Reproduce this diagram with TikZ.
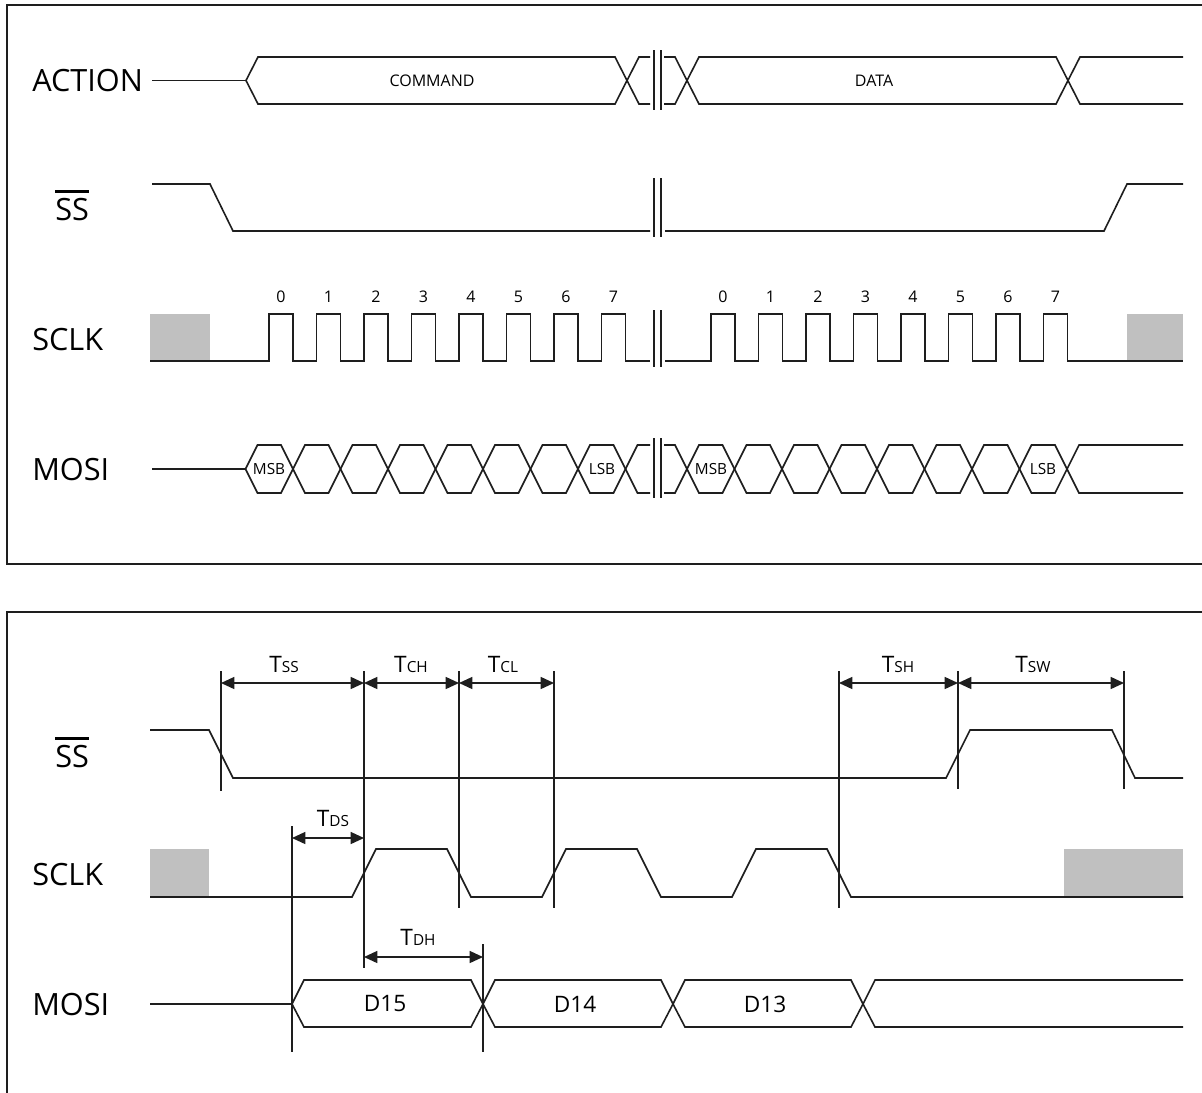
\documentclass[tikz,border=0pt]{standalone}
\usepackage{fontspec}
\setmainfont{Open Sans}
\usetikzlibrary{arrows.meta}
\definecolor{sigc}{RGB}{30,30,30}
\definecolor{grayfill}{RGB}{192,192,192}
\newcommand{\ovlss}{\vbox{\hrule height 2.4pt\kern 3.6pt\hbox{SS}}}
\newcommand{\tlab}[1]{{\fontsize{17}{19}\selectfont T}{\fontsize{11.5}{13}\selectfont #1}}
\tikzset{
  sig/.style={line width=1.2pt, draw=sigc, line join=miter},
  frame/.style={line width=1.6pt, draw=sigc},
  brk/.style={line width=1.2pt, draw=sigc},
  mark line/.style={line width=1.1pt, draw=sigc},
  dim/.style={line width=1.1pt, draw=sigc, {Triangle[length=10pt,width=9pt]}-{Triangle[length=10pt,width=9pt]}},
  siglabel/.style={font=\fontsize{23}{27}\selectfont, inner sep=0pt, text=black},
  buslabel/.style={font=\fontsize{12}{14}\selectfont, inner sep=0pt},
  bitlabel/.style={font=\fontsize{12}{14}\selectfont, inner sep=0pt},
  cell/.style={font=\fontsize{11.5}{13}\selectfont, inner sep=0pt},
  dlabel/.style={font=\fontsize{17}{19}\selectfont, inner sep=0pt},
  tlabel/.style={inner sep=0pt, anchor=base},
  grayblk/.style={fill=grayfill, draw=none}
}
\begin{document}
\begin{tikzpicture}[x=0.75pt, y=-0.75pt]
\useasboundingbox (0,0) rectangle (1202,1092);
\clip (0,0) rectangle (1202,1092);
\fill[white] (0,0) rectangle (1202,1092);

% frames
\draw[frame] (7,5) rectangle (1220,564);
\draw[frame] (7,612) rectangle (1220,1110);

% ================= TOP =================
\node[siglabel, anchor=west] (lact) at (32,80.5) {ACTION};
\node[siglabel, anchor=base west] (lss1) at (55,220) {\ovlss};
\node[siglabel, anchor=west] (lsclk1) at (32,340) {SCLK};
\node[siglabel, anchor=west] (lmosi1) at (32,470) {MOSI};

% ACTION
\draw[sig] (152,80.5) -- (246,80.5);
\draw[sig] (246,80.5) -- (258,57) -- (615,57) -- (639,104) -- (650,104);
\draw[sig] (246,80.5) -- (258,104) -- (615,104) -- (639,57) -- (650,57);
\draw[sig] (664,57) -- (675,57) -- (699,104) -- (1056,104) -- (1080,57) -- (1183,57);
\draw[sig] (664,104) -- (675,104) -- (699,57) -- (1056,57) -- (1080,104) -- (1183,104);
\node[buslabel] (cmd) at (432,80.5) {COMMAND};
\node[buslabel] (dat) at (874,80.5) {DATA};

% SS
\draw[sig] (152,184) -- (210,184) -- (233,231) -- (650,231);
\draw[sig] (665,231) -- (1104,231) -- (1127,184) -- (1183,184);

% SCLK
\fill[grayblk] (150,314) rectangle (210,361);
\fill[grayblk] (1127,314) rectangle (1183,361);
\draw[sig] (150,361) foreach \k in {0,...,7} { -- ({269+47.5*\k},361) -- ({269+47.5*\k},314) -- ({293+47.5*\k},314) -- ({293+47.5*\k},361) } -- (650,361);
\draw[sig] (665,361) foreach \k in {0,...,7} { -- ({711+47.5*\k},361) -- ({711+47.5*\k},314) -- ({735+47.5*\k},314) -- ({735+47.5*\k},361) } -- (1183,361);
\foreach \k in {0,...,7} {
  \node[bitlabel] (bl\k) at ({281+47.5*\k},297) {\k};
  \node[bitlabel] (br\k) at ({723+47.5*\k},297) {\k};
}

% MOSI
\draw[sig] (152,469) -- (245.5,469);
\foreach \j in {0,...,7} {
  \pgfmathsetmacro\L{245.5+47.5*\j}
  \pgfmathsetmacro\R{\L+47.5}
  \draw[sig] (\L,469) -- ({\L+12},445) -- ({\R-12},445) -- (\R,469) -- ({\R-12},493) -- ({\L+12},493) -- cycle;
}
\draw[sig] (625.5,469) -- (637.5,445) -- (650,445);
\draw[sig] (625.5,469) -- (637.5,493) -- (650,493);
\draw[sig] (664,445) -- (675,445) -- (687,469) -- (675,493) -- (664,493);
\foreach \j in {0,...,7} {
  \pgfmathsetmacro\L{687+47.5*\j}
  \pgfmathsetmacro\R{\L+47.5}
  \draw[sig] (\L,469) -- ({\L+12},445) -- ({\R-12},445) -- (\R,469) -- ({\R-12},493) -- ({\L+12},493) -- cycle;
}
\draw[sig] (1067,469) -- (1079,445) -- (1183,445);
\draw[sig] (1067,469) -- (1079,493) -- (1183,493);
\node[cell] (msb1) at (269,469) {MSB};
\node[cell] (lsb1) at (602,469) {LSB};
\node[cell] (msb2) at (711,469) {MSB};
\node[cell] (lsb2) at (1043,469) {LSB};

% break marks
\foreach \ya/\yb in {50/110, 178/237, 310/367, 438/498} {
  \draw[brk] (654,\ya) -- (654,\yb);
  \draw[brk] (661,\ya) -- (661,\yb);
}

% ================= BOTTOM =================
\node[siglabel, anchor=base west] (lss2) at (55,767) {\ovlss};
\node[siglabel, anchor=west] (lsclk2) at (32,875) {SCLK};
\node[siglabel, anchor=west] (lmosi2) at (32,1005) {MOSI};

% SS
\draw[sig] (150,730) -- (209,730) -- (233,778) -- (946,778) -- (970,730) -- (1112,730) -- (1135,778) -- (1183,778);

% SCLK
\fill[grayblk] (150,849) rectangle (209,897);
\fill[grayblk] (1064,849) rectangle (1183,897);
\draw[sig] (150,897) -- (352,897) -- (376,849) -- (447,849) -- (471,897) -- (542,897) -- (566,849) -- (637,849) -- (661,897) -- (732,897) -- (756,849) -- (827,849) -- (851,897) -- (1183,897);

% MOSI
\draw[sig] (150,1004) -- (292,1004);
\foreach \L/\R in {292/483, 483/673, 673/863} {
  \draw[sig] (\L,1004) -- ({\L+12},980) -- ({\R-12},980) -- (\R,1004) -- ({\R-12},1027) -- ({\L+12},1027) -- cycle;
}
\draw[sig] (863,1004) -- (875,980) -- (1183,980);
\draw[sig] (863,1004) -- (875,1027) -- (1183,1027);
\node[dlabel] (d15) at (385,1004) {D15};
\node[dlabel] (d14) at (575,1004) {D14};
\node[dlabel] (d13) at (765,1004) {D13};

% timing markers
\coordinate (a1t) at (221,671); \coordinate (a1b) at (221,791);
\coordinate (a2t) at (364,671); \coordinate (a2b) at (364,968);
\coordinate (a3t) at (459,671); \coordinate (a3b) at (459,908);
\coordinate (a4t) at (554,671); \coordinate (a4b) at (554,908);
\coordinate (a5t) at (839,671); \coordinate (a5b) at (839,908);
\coordinate (a6t) at (958,671); \coordinate (a6b) at (958,789);
\coordinate (a7t) at (1124,671); \coordinate (a7b) at (1124,789);
\coordinate (a8t) at (292,826); \coordinate (a8b) at (292,1052);
\coordinate (a9t) at (483,944); \coordinate (a9b) at (483,1052);
\foreach \i in {1,...,9} { \draw[mark line] (a\i t) -- (a\i b); }

\coordinate (r1) at (221,683);
\coordinate (r2) at (364,683);
\coordinate (r3) at (459,683);
\coordinate (r4) at (554,683);
\coordinate (r5) at (839,683);
\coordinate (r6) at (958,683);
\coordinate (r7) at (1124,683);
\coordinate (s1) at (292,838);
\coordinate (s2) at (364,838);
\coordinate (q1) at (364,957);
\coordinate (q2) at (483,957);
\draw[dim] (r1) -- (r2);
\draw[dim] (r2) -- (r3);
\draw[dim] (r3) -- (r4);
\draw[dim] (r5) -- (r6);
\draw[dim] (r6) -- (r7);
\draw[dim] (s1) -- (s2);
\draw[dim] (q1) -- (q2);

\node[tlabel] (tss) at (284,672) {\tlab{SS}};
\node[tlabel] (tch) at (411,672) {\tlab{CH}};
\node[tlabel] (tcl) at (503,672) {\tlab{CL}};
\node[tlabel] (tsh) at (898,672) {\tlab{SH}};
\node[tlabel] (tsw) at (1033,672) {\tlab{SW}};
\node[tlabel] (tds) at (333,826) {\tlab{DS}};
\node[tlabel] (tdh) at (418,945) {\tlab{DH}};
\end{tikzpicture}
\end{document}
